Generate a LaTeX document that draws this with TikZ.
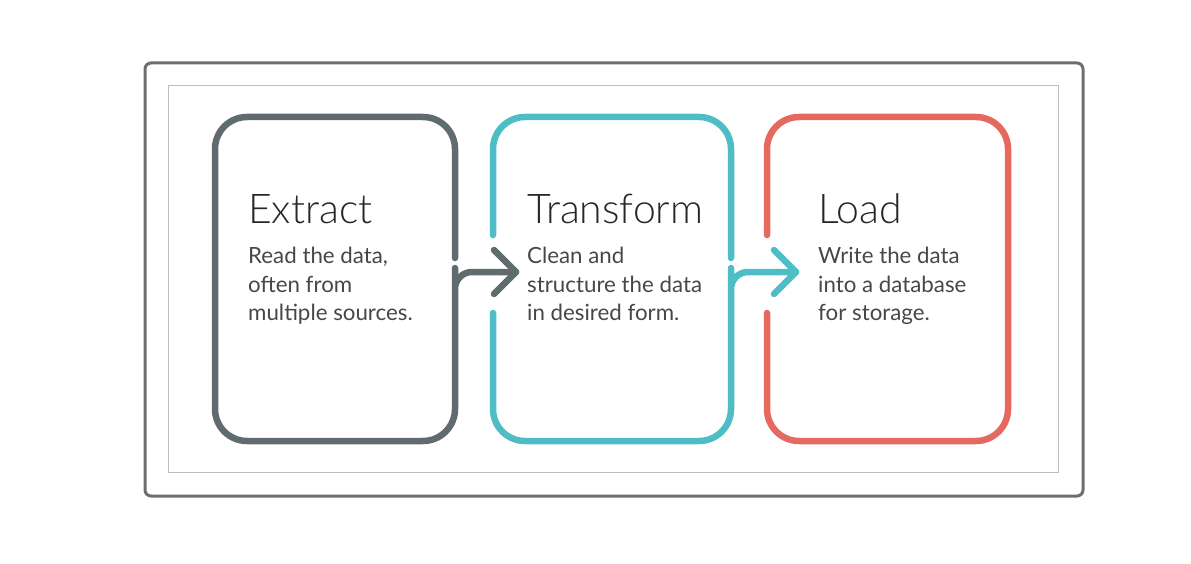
\documentclass[tikz,border=0pt]{standalone}
\usepackage{fontspec}
\newfontfamily\lightfont{Lato Light}
\newfontfamily\bodyfont{Lato}
\definecolor{frameg}{HTML}{6E6E6E}
\definecolor{innerg}{HTML}{BDBDBD}
\definecolor{extg}{HTML}{5F6B6E}
\definecolor{trteal}{HTML}{4FBDC6}
\definecolor{ldred}{HTML}{E5695F}
\tikzset{
  stage/.style={line width=6.5pt, line cap=round, line join=round, rounded corners=32pt},
  title/.style={anchor=base west, inner sep=0pt, font=\lightfont\fontsize{41}{46}\selectfont, text=black!85},
  body/.style={anchor=north west, inner sep=0pt, align=left, font=\bodyfont\fontsize{22.3}{28.5}\selectfont, text=black!72},
}
\begin{document}
\begin{tikzpicture}[x=1pt,y=-1pt]
\useasboundingbox (0,0) rectangle (1191,564);
% frames
\draw[frameg, line width=3pt, rounded corners=6pt] (145,63) rectangle (1083,496);
\draw[innerg, line width=1pt] (168,86) rectangle (1058,472);
% coordinates
\coordinate (e1) at (516,272);
\coordinate (t1) at (796,272);
% Extract box with arrow
\draw[stage, extg] (455,258) -- (455,117) -- (215,117) -- (215,441) -- (455,441) -- (455,300)
  [rounded corners=17pt] -- (455,272) -- (e1);
\draw[extg, line width=6.5pt, line cap=round, line join=round] (494,250) -- (e1) -- (494,294);
% Transform box with arrow
\draw[stage, trteal] (493,235) -- (493,117) -- (731,117) -- (731,258);
\draw[stage, trteal] (493,313) -- (493,441) -- (731,441) -- (731,300)
  [rounded corners=17pt] -- (731,272) -- (t1);
\draw[trteal, line width=6.5pt, line cap=round, line join=round] (774,250) -- (t1) -- (774,294);
% Load box
\draw[stage, ldred] (767,235) -- (767,117) -- (1008,117) -- (1008,441) -- (767,441) -- (767,313);
% texts
\node[title] (ext) at (248,224) {Extract};
\node[body] (extb) at (248,243.5) {\strut Read the data,\\often from\\multiple sources.};
\node[title] (tra) at (527,224) {Transform};
\node[body] (trab) at (527,243.5) {\strut Clean and\\structure the data\\in desired form.};
\node[title] (loa) at (818,224) {Load};
\node[body] (loab) at (818,243.5) {\strut Write the data\\into a database\\for storage.};
\end{tikzpicture}
\end{document}
